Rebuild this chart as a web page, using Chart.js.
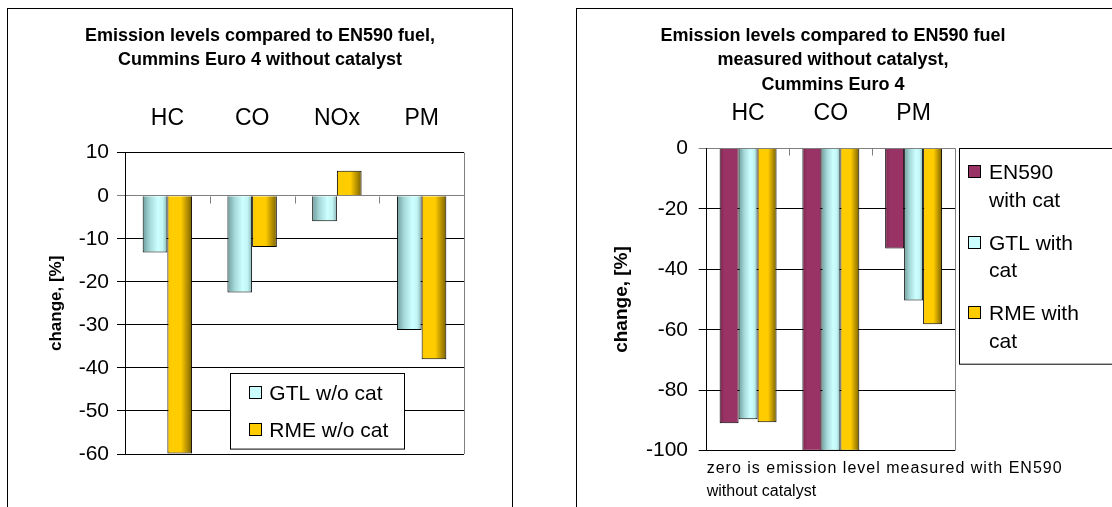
<!DOCTYPE html>
<html>
<head>
<meta charset="utf-8">
<script src="https://cdn.jsdelivr.net/npm/chart.js@4.4.1/dist/chart.umd.min.js"></script>
<style>
    html, body { margin: 0; padding: 0; background: #fff; overflow: hidden; }
    body { position: relative; width: 1112px; height: 507px; }
    .panel { position: absolute; top: 8px; border: 1px solid #000; background: #fff; height: 520px; }
    #leftPanel { left: 7px; width: 504px; }
    #rightPanel { left: 576px; width: 560px; }
    canvas { display: block; }
</style>
</head>
<body>
<div class="panel" id="leftPanel"><canvas id="noCatChart" width="504" height="498"></canvas></div>
<div class="panel" id="rightPanel"><canvas id="catChart" width="540" height="498"></canvas></div>

<script>
// change vs EN590, engine run without catalyst
const noCatTitle = ["Emission levels compared to EN590 fuel,", "Cummins Euro 4 without catalyst"];
const noCatCategories = ["HC", "CO", "NOx", "PM"];
const gtlNoCat = [-13.2, -22.5, -5.9, -31.2];
const rmeNoCat = [-59.9, -11.9, 5.8, -38.0];
const noCatLegend = [["GTL w/o cat"], ["RME w/o cat"]];
const noCatAxis = [-60, 10, 10]; // min, max, step

// with catalyst, relative to EN590 measured without catalyst
const catTitle = ["Emission levels compared to EN590 fuel", "measured without catalyst,", "Cummins Euro 4"];
const catCategories = ["HC", "CO", "PM"];
const en590Cat = [-90.9, -100, -33.1];
const gtlCat = [-89.6, -100, -50.3];
const rmeCat = [-90.6, -100, -58.2];
const catLegend = [["EN590", "with cat"], ["GTL with", "cat"], ["RME with", "cat"]];
const catAxis = [-100, 0, 20];
const catFootnote = ["zero is emission level measured with EN590", "without catalyst"];

const yTitle = "change, [%]";

// fill colours, shaded left to right like the old office bars
const cyan = "#ccffff", gold = "#ffcc00", purple = "#993366";
const cyanShade = [[0, "#6f9c9c"], [0.3, "#a6dada"], [0.62, "#ccffff"], [0.82, "#c2f4f4"], [1, "#86b2b2"]];
const goldShade = [[0, "#f2c200"], [0.12, "#ffcc00"], [0.55, "#ffcc00"], [1, "#7a6100"]];
const purpleShade = [[0, "#7a2850"], [0.25, "#993366"], [1, "#993366"]];

Chart.defaults.font.family = 'Arial, "Liberation Sans", sans-serif';
Chart.defaults.color = "#000";

// gradient fill per bar, axis ticks on the zero line, grey right edge
const barFrame = {
    id: "barFrame",
    beforeDatasetsDraw(chart) {
        let ctx = chart.ctx;
        let a = chart.chartArea;
        let x = chart.scales.x;
        let y = chart.scales.y;

        chart.data.datasets.forEach(function(ds, i) {
            chart.getDatasetMeta(i).data.forEach(function(bar) {
                let x0 = bar.x - bar.width / 2;
                let g = ctx.createLinearGradient(x0, 0, x0 + bar.width, 0);
                ds.shade.forEach(function(s) { g.addColorStop(s[0], s[1]); });
                bar.options = Object.assign({}, bar.options, { backgroundColor: g });
            });
        });

        let zero = Math.round(y.getPixelForValue(0)) + 0.5;
        ctx.save();
        ctx.strokeStyle = "#808080";
        ctx.lineWidth = 1;
        ctx.beginPath();
        ctx.moveTo(Math.round(a.right) + 0.5, a.top);
        ctx.lineTo(Math.round(a.right) + 0.5, a.bottom);
        for (let i = 1; i < x.ticks.length; i++) {
            let px = Math.round((x.getPixelForTick(i - 1) + x.getPixelForTick(i)) / 2) + 0.5;
            ctx.moveTo(px, zero);
            ctx.lineTo(px, zero + 7);
        }
        ctx.stroke();
        ctx.restore();
    }
};

// framed legend with wrapped labels
const boxLegend = {
    id: "boxLegend",
    afterDatasetsDraw(chart, args, opts) {
        let ctx = chart.ctx;
        ctx.save();
        ctx.fillStyle = "#fff";
        ctx.fillRect(opts.x, opts.y, opts.w, opts.h);
        ctx.strokeStyle = "#000";
        ctx.lineWidth = 1;
        ctx.strokeRect(Math.round(opts.x) + 0.5, Math.round(opts.y) + 0.5, opts.w, opts.h);
        ctx.font = opts.size + 'px Arial, "Liberation Sans", sans-serif';
        ctx.textBaseline = "alphabetic";
        ctx.textAlign = "left";
        chart.data.datasets.forEach(function(ds, i) {
            let base = opts.y + opts.first + i * opts.step;
            let sx = Math.round(opts.x + opts.sx);
            let sy = Math.round(base - 14);
            ctx.fillStyle = ds.swatch;
            ctx.fillRect(sx, sy, 13, 13);
            ctx.strokeRect(sx + 0.5, sy + 0.5, 12, 12);
            ctx.fillStyle = "#000";
            ds.legendText.forEach(function(t, j) {
                ctx.fillText(t, opts.x + opts.tx, base + j * opts.lineStep);
            });
        });
        ctx.restore();
    }
};

// note under the plot; first line is set a little looser
const footnote = {
    id: "footnote",
    afterDraw(chart, args, opts) {
        if (!opts.lines) return;
        let ctx = chart.ctx;
        let a = chart.chartArea;
        ctx.save();
        ctx.font = '16px Arial, "Liberation Sans", sans-serif';
        ctx.fillStyle = "#000";
        ctx.textAlign = "left";
        ctx.textBaseline = "alphabetic";
        opts.lines.forEach(function(t, j) {
            ctx.letterSpacing = j === 0 ? "1px" : "0px";
            ctx.fillText(t, a.left, a.bottom + 22.6 + j * 22.4);
        });
        ctx.restore();
    }
};

function makeChart(id, s) {
    return new Chart(document.getElementById(id), {
        type: "bar",
        data: { labels: s.categories, datasets: s.datasets },
        plugins: [barFrame, boxLegend, footnote],
        options: {
            responsive: false,
            animation: false,
            events: [],
            layout: { padding: { top: 0, left: 0, right: s.padRight, bottom: s.padBottom } },
            datasets: {
                bar: { barPercentage: 1, categoryPercentage: s.catPct }
            },
            plugins: {
                colors: { enabled: false },
                legend: { display: false },
                tooltip: { enabled: false },
                title: {
                    display: true,
                    text: s.title,
                    color: "#000",
                    font: { size: 18, weight: "bold", lineHeight: s.titleLine / 18 },
                    padding: { top: s.titleTop, bottom: 0 }
                },
                boxLegend: s.legend,
                footnote: { lines: s.footnote }
            },
            scales: {
                x: {
                    position: "top",
                    grid: { display: false, drawTicks: false },
                    border: { display: false },
                    ticks: { font: { size: 23 }, color: "#000", padding: s.xPad, maxRotation: 0 },
                    afterFit: function(scale) { scale.height = s.xHeight; }
                },
                y: {
                    min: s.axis[0],
                    max: s.axis[1],
                    ticks: { stepSize: s.axis[2], font: { size: 21 }, color: "#000", padding: s.yPad },
                    grid: {
                        color: function(c) { return c.tick && c.tick.value === 0 ? "#808080" : "#000"; },
                        tickLength: 8
                    },
                    border: { display: true, color: "#000" },
                    title: {
                        display: true,
                        text: yTitle,
                        color: "#000",
                        font: { size: s.yTitleSize, weight: "bold" },
                        padding: { top: s.yTitlePad, bottom: 0 }
                    },
                    afterFit: function(scale) { scale.width = s.yWidth; }
                },
                // empty strip on the right that holds the legend
                side: {
                    type: "linear",
                    position: "right",
                    grid: { display: false, drawOnChartArea: false, drawTicks: false },
                    border: { display: false },
                    ticks: { display: false },
                    afterFit: function(scale) { scale.width = s.sideWidth; }
                }
            }
        }
    });
}

makeChart("noCatChart", {
    title: noCatTitle,
    categories: noCatCategories,
    datasets: [
        { label: "GTL w/o cat", data: gtlNoCat, backgroundColor: cyan, borderColor: "#000", borderWidth: 1,
          shade: cyanShade, swatch: cyan, legendText: noCatLegend[0] },
        { label: "RME w/o cat", data: rmeNoCat, backgroundColor: gold, borderColor: "#000", borderWidth: 1,
          shade: goldShade, swatch: gold, legendText: noCatLegend[1] }
    ],
    axis: noCatAxis,
    catPct: 0.583,
    padRight: 0,
    sideWidth: 48,
    padBottom: 53,
    titleLine: 24,
    titleTop: 14.76,
    xHeight: 80.94,
    xPad: 20.2,
    yWidth: 117,
    yPad: 8,
    yTitleSize: 17,
    yTitlePad: 37.8,
    legend: { x: 222, y: 363.7, w: 174, h: 75.6, sx: 19.3, tx: 39.3, first: 27.3, step: 37.3, lineStep: 0, size: 21 },
    footnote: null
});

makeChart("catChart", {
    title: catTitle,
    categories: catCategories,
    datasets: [
        { label: "EN590 with cat", data: en590Cat, backgroundColor: purple, borderColor: "#000", borderWidth: 1,
          shade: purpleShade, swatch: purple, legendText: catLegend[0] },
        { label: "GTL with cat", data: gtlCat, backgroundColor: cyan, borderColor: "#000", borderWidth: 1,
          shade: cyanShade, swatch: cyan, legendText: catLegend[1] },
        { label: "RME with cat", data: rmeCat, backgroundColor: gold, borderColor: "#000", borderWidth: 1,
          shade: goldShade, swatch: gold, legendText: catLegend[2] }
    ],
    axis: catAxis,
    catPct: 0.688,
    padRight: 28,
    sideWidth: 134,
    padBottom: 56.3,
    titleLine: 24.5,
    titleTop: 14.51,
    xHeight: 51.29,
    xPad: 20.8,
    yWidth: 129.7,
    yPad: 10.7,
    yTitleSize: 19,
    yTitlePad: 33.3,
    legend: { x: 382, y: 139.3, w: 200, h: 215.7, sx: 9.3, tx: 30, first: 30.7, step: 70.5, lineStep: 27.5, size: 21 },
    footnote: catFootnote
});
</script>
</body>
</html>
